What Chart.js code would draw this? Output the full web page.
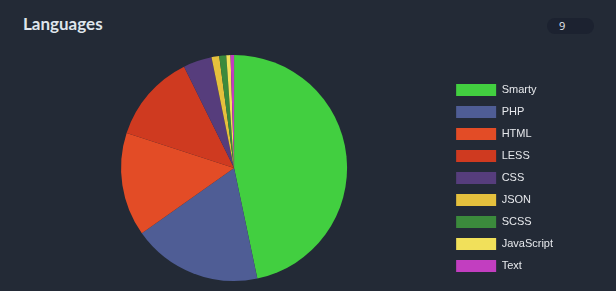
<!DOCTYPE html>
<html>
<head>
<meta charset="utf-8">
<script src="https://cdn.jsdelivr.net/npm/chart.js@4.4.0/dist/chart.umd.min.js"></script>
<style>
    body { margin: 0; background: #232a36; width: 616px; height: 291px; overflow: hidden; position: relative; }
    .card-title { position: absolute; left: 23px; top: 13px; font-family: Lato, sans-serif; font-weight: 700; font-size: 17px; color: #dfe5ec; }
    .badge { position: absolute; left: 547px; top: 18px; width: 47px; height: 16px; border-radius: 8px; background: #1c2230; color: #e6eaf0; font-family: 'Open Sans', sans-serif; font-size: 11px; line-height: 16px; text-indent: 12px; }
    .chart-wrap { position: absolute; left: 0; top: 50px; width: 616px; height: 241px; }
</style>
</head>
<body>
<div class="card-title">Languages</div>
<div class="badge">9</div>
<div class="chart-wrap"><canvas id="languagesChart"></canvas></div>
<script>
// Languages share (percent)
const languages = ['Smarty', 'PHP', 'HTML', 'LESS', 'CSS', 'JSON', 'SCSS', 'JavaScript', 'Text'];
const shares = [46.7, 18.5, 14.8, 12.7, 4.1, 1.1, 1.0, 0.6, 0.5];
const colors = ['#42cf40', '#4f5d95', '#e34c26', '#cf3a20', '#563d7c', '#e5c03d', '#3b8a3c', '#f1e05a', '#c23ec0'];

// push the legend down a bit so it sits lower than the pie, like the original
const legendNudge = {
    id: 'legendNudge',
    afterLayout(chart) {
        chart.legend.top += 10;
        chart.legend.bottom += 10;
    }
};

document.addEventListener('DOMContentLoaded', function() {
    const ctx = document.getElementById('languagesChart').getContext('2d');
    new Chart(ctx, {
        type: 'pie',
        data: {
            labels: languages,
            datasets: [{
                data: shares,
                backgroundColor: colors,
                borderWidth: 0
            }]
        },
        options: {
            responsive: true,
            maintainAspectRatio: false,
            animation: false,
            layout: {
                padding: { left: 22, right: 53, top: 5, bottom: 10 }
            },
            plugins: {
                legend: {
                    position: 'right',
                    labels: {
                        color: '#e6e8ec',
                        boxWidth: 40,
                        boxHeight: 12,
                        padding: 10,
                        font: { size: 11, family: "'Liberation Sans', Arial, sans-serif" }
                    }
                },
                tooltip: { enabled: false }
            }
        },
        plugins: [legendNudge]
    });
});
</script>
</body>
</html>
